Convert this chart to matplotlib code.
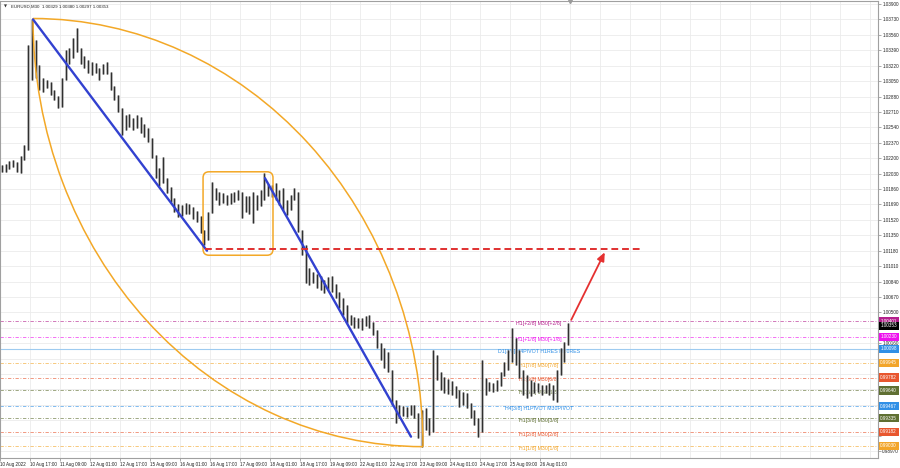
import matplotlib
matplotlib.use("Agg")
import matplotlib.pyplot as plt
from matplotlib.patches import Arc, FancyBboxPatch, Rectangle
import numpy as np

# === 2-hour bars, EURUSD (hours counted in trading time from 10 Aug 01:00) ===
bar_highs = [
    1.0212, 1.0214, 1.0217, 1.0218, 1.0216, 1.0222, 1.0235, 1.0345, 1.0373, 1.0350,
    1.0323, 1.0308, 1.0306, 1.0304, 1.0295, 1.0289, 1.0308, 1.0339, 1.0341, 1.0353,
    1.0364, 1.0341, 1.0333, 1.0328, 1.0326, 1.0325, 1.0319, 1.0324, 1.0326, 1.0315,
    1.0300, 1.0290, 1.0275, 1.0268, 1.0269, 1.0264, 1.0268, 1.0265, 1.0258, 1.0253,
    1.0242, 1.0224, 1.0209, 1.0221, 1.0198, 1.0188, 1.0176, 1.0169, 1.0168, 1.0171,
    1.0169, 1.0166, 1.0162, 1.0156, 1.0141, 1.0161, 1.0194, 1.0187, 1.0183, 1.0182,
    1.0179, 1.0182, 1.0183, 1.0185, 1.0183, 1.0178, 1.0178, 1.0183, 1.0179, 1.0185,
    1.0204, 1.0192, 1.0190, 1.0193, 1.0185, 1.0187, 1.0174, 1.0179, 1.0187, 1.0183,
    1.0141, 1.0124, 1.0099, 1.0095, 1.0092, 1.0090, 1.0086, 1.0089, 1.0090, 1.0081,
    1.0072, 1.0066, 1.0058, 1.0047, 1.0045, 1.0044, 1.0044, 1.0046, 1.0047, 1.0039,
    1.0031, 1.0016, 1.0011, 1.0006, 0.9986, 0.9953, 0.9948, 0.9947, 0.9946, 0.9948,
    0.9948, 0.9939, 0.9942, 0.9945, 0.9934, 1.0009, 1.0003, 0.9984, 0.9979, 0.9977,
    0.9974, 0.9969, 0.9964, 0.9962, 0.9961, 0.9950, 0.9942, 0.9934, 0.9998, 0.9978,
    0.9973, 0.9972, 0.9975, 0.9984, 0.9995, 1.0009, 1.0033, 1.0022, 1.0009, 0.9986,
    0.9981, 0.9975, 0.9973, 0.9972, 0.9970, 0.9970, 0.9972, 0.9970, 0.9986, 1.0011,
    1.0017, 1.0038,
]
bar_lows = [
    1.0205, 1.0205, 1.0208, 1.0210, 1.0205, 1.0204, 1.0218, 1.0229, 1.0306, 1.0308,
    1.0295, 1.0293, 1.0297, 1.0290, 1.0284, 1.0275, 1.0276, 1.0306, 1.0324, 1.0330,
    1.0337, 1.0324, 1.0319, 1.0314, 1.0312, 1.0314, 1.0306, 1.0313, 1.0313, 1.0295,
    1.0284, 1.0271, 1.0246, 1.0251, 1.0254, 1.0251, 1.0253, 1.0248, 1.0243, 1.0238,
    1.0220, 1.0198, 1.0189, 1.0193, 1.0182, 1.0172, 1.0161, 1.0155, 1.0156, 1.0158,
    1.0158, 1.0153, 1.0150, 1.0138, 1.0124, 1.0130, 1.0160, 1.0174, 1.0168, 1.0171,
    1.0168, 1.0169, 1.0172, 1.0174, 1.0154, 1.0161, 1.0158, 1.0149, 1.0163, 1.0167,
    1.0174, 1.0178, 1.0177, 1.0174, 1.0168, 1.0163, 1.0157, 1.0163, 1.0174, 1.0139,
    1.0113, 1.0082, 1.0080, 1.0082, 1.0077, 1.0075, 1.0071, 1.0075, 1.0072, 1.0066,
    1.0055, 1.0047, 1.0038, 1.0036, 1.0033, 1.0033, 1.0031, 1.0035, 1.0033, 1.0025,
    1.0011, 0.9998, 0.9989, 0.9984, 0.9948, 0.9928, 0.9934, 0.9936, 0.9935, 0.9937,
    0.9934, 0.9912, 0.9902, 0.9920, 0.9915, 0.9918, 0.9975, 0.9964, 0.9961, 0.9960,
    0.9959, 0.9956, 0.9946, 0.9948, 0.9945, 0.9934, 0.9926, 0.9913, 0.9918, 0.9959,
    0.9963, 0.9962, 0.9963, 0.9969, 0.9980, 0.9986, 0.9995, 0.9992, 0.9978, 0.9959,
    0.9956, 0.9958, 0.9961, 0.9962, 0.9959, 0.9961, 0.9959, 0.9953, 0.9951, 0.9981,
    0.9995, 1.0014,
]
bar_hours = 2

time_ticks = [0, 16, 32, 48, 64, 80, 96, 112, 128, 144, 160, 176, 192, 208, 224, 240, 256, 272, 288]
time_labels = ["10 Aug 2022", "10 Aug 17:00", "11 Aug 09:00", "12 Aug 01:00", "12 Aug 17:00",
               "15 Aug 09:00", "16 Aug 01:00", "16 Aug 17:00", "17 Aug 09:00", "18 Aug 01:00",
               "18 Aug 17:00", "19 Aug 09:00", "22 Aug 01:00", "22 Aug 17:00", "23 Aug 09:00",
               "24 Aug 01:00", "24 Aug 17:00", "25 Aug 09:00", "26 Aug 01:00"]

price_ticks = [1.03900 - 0.0017 * k for k in range(30)]

# === Murrey levels ===
level_prices = [1.00401, 1.00230, 1.00098, 0.99945, 0.99782, 0.99640, 0.99467, 0.99335, 0.99182, 0.99030]
level_names = ["H1[+2/8] M30[+2/8]", "H1[+1/8] M30[+1/8]", "D1[3/8]/H4PIVOT H1RES M30RES",
               "H1[7/8] M30[7/8]", "H1[6/8] M30[6/8]", "H1[5/8] M30[5/8]",
               "H4[3/8] H1PIVOT M30PIVOT", "H1[3/8] M30[3/8]", "H1[2/8] M30[2/8]", "H1[1/8] M30[1/8]"]
level_colors = ["#b4208c", "#ee11ee", "#2f8fe6", "#f2a52a", "#e8562e", "#5f6f32",
                "#2f8fe6", "#5f6f32", "#e8562e", "#f2a52a"]
last_price = 1.00353
title_text = "EURUSD,M30  1.00329 1.00380 1.00297 1.00353"

# === Drawn objects (anchor points) ===
arc_top = (17.6, 1.0374)
arc_bottom = (225.6, 0.9902)
trend1 = [(17.6, 1.0373), (110.4, 1.0118)]
trend2 = [(141.3, 1.0198), (219.2, 0.9913)]
target_level = 1.0120
target_span = (109.3, 341.9)
arrow_from = (304.0, 1.0039)
arrow_to = (323.2, 1.0119)
range_box = (108.3, 1.0113, 37.3, 0.0092)

ORANGE = "#f3a827"
FONT = "Liberation Sans"

fig = plt.figure(figsize=(9, 4.68), dpi=100)
ax = fig.add_axes([0.0, 0.0214, 0.9756, 0.9765])
ax.set_xlim(0, 468.3)
ax.set_ylim(0.98895, 1.03933)

# grid
for t in range(0, 468, 16):
    ax.axvline(t, color="#ebebeb", lw=0.6, zorder=0)
for p in price_ticks:
    ax.axhline(p, color="#ebebeb", lw=0.6, zorder=0)

# levels
for p, name, col in zip(level_prices, level_names, level_colors):
    if "D1" in name:
        ax.axhline(p, color="#9ecbf0", lw=0.8, zorder=1)
    else:
        ax.axhline(p, color=col, lw=0.6, alpha=0.7, ls=(0, (4, 2, 1, 2)), zorder=1)
    ax.text(287.5, p - 0.00025, name, color=col, fontsize=3.8, family=FONT,
            ha="center", va="center", zorder=2)

# bars
t_bars = np.arange(len(bar_highs)) * bar_hours + bar_hours / 2
ax.vlines(t_bars, bar_lows, bar_highs, color="#a8a8a8", lw=1.8, zorder=3)
ax.vlines(t_bars, bar_lows, bar_highs, color="#303030", lw=0.8, zorder=3)

# arcs
w = 2 * (arc_bottom[0] - arc_top[0])
h = 2 * (arc_top[1] - arc_bottom[1])
ax.add_patch(Arc((arc_top[0], arc_bottom[1]), w, h, theta1=0, theta2=90,
                 color=ORANGE, lw=1.1, zorder=4))
ax.add_patch(Arc((arc_bottom[0], arc_top[1]), w, h, theta1=180, theta2=270,
                 color=ORANGE, lw=1.1, zorder=4))

# range box
asp = 0.00011025 / (1 / 1.875)
ax.add_patch(FancyBboxPatch(range_box[:2], range_box[2], range_box[3],
                            boxstyle="round,pad=0,rounding_size=3.2", mutation_aspect=asp,
                            fill=False, edgecolor=ORANGE, lw=1.1, zorder=4))

# trend lines
for (a, b) in (trend1, trend2):
    ax.plot([a[0], b[0]], [a[1], b[1]], color="#3241d0", lw=1.7, zorder=5,
            solid_capstyle="round")

ax.plot(target_span, [target_level, target_level], color="#e03030", lw=1.4,
        ls=(0, (3.5, 2)), zorder=5)
ax.annotate("", xy=arrow_to, xytext=arrow_from,
            arrowprops=dict(arrowstyle="-|>,head_length=0.5,head_width=0.22",
                            color="#e53030", lw=1.3), zorder=6)

# axes look
for s in ax.spines.values():
    s.set_color("#a0a0a0")
    s.set_linewidth(0.8)

# price boxes on the scale hide the tick labels under them
box_prices = level_prices + [last_price]
tick_text = []
for p in price_ticks:
    covered = min(abs(p - b) for b in box_prices) < 0.0006
    tick_text.append("" if covered else f"{p:.5f}")

ax.yaxis.tick_right()
ax.set_yticks(price_ticks)
ax.set_yticklabels(tick_text)
ax.set_xticks(time_ticks)
ax.set_xticklabels(time_labels)
ax.tick_params(axis="both", labelsize=3.3, length=2, width=0.5, color="#888888",
               labelcolor="#222222", pad=1)
for lab in ax.get_xticklabels():
    lab.set_horizontalalignment("left")
    lab.set_family(FONT)
for lab in ax.get_yticklabels():
    lab.set_family(FONT)

ytr = ax.get_yaxis_transform()
boxes = list(zip(level_prices, level_colors)) + [(last_price, "#000000")]
for p, col in boxes:
    ax.add_patch(Rectangle((1.001, p - 0.00046), 0.0225, 0.00092, transform=ytr,
                           facecolor=col, edgecolor="none", clip_on=False, zorder=8))
    ax.text(1.0025, p, f"{p:.5f}", transform=ytr, color="white", fontsize=3.3,
            family=FONT, ha="left", va="center", clip_on=False, zorder=9)

# title
ax.text(0.004, 0.992, "\u25bc", transform=ax.transAxes, fontsize=2.8, color="#333333",
        ha="left", va="top")
ax.text(0.012, 0.993, title_text, transform=ax.transAxes, fontsize=3.2, family=FONT,
        color="#222222", ha="left", va="top")
ax.plot([304], [1.03933], marker="v", color="#9a9a9a", ms=3, clip_on=False, zorder=9)

fig.savefig("out.png", dpi=100)
